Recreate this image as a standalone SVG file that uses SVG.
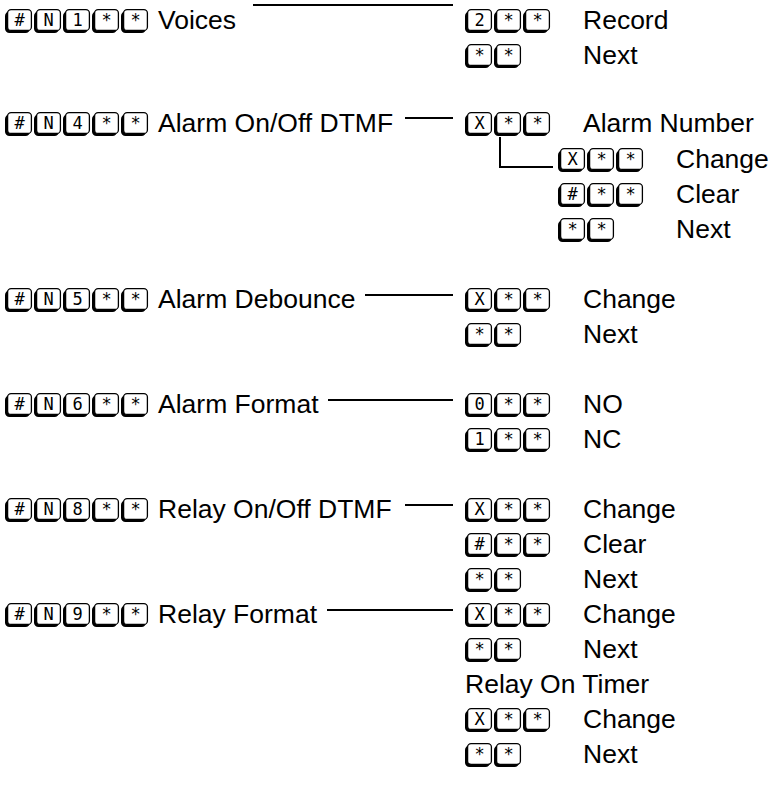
<svg xmlns="http://www.w3.org/2000/svg" width="772" height="804" viewBox="0 0 772 804">
<style>
.t{font-family:"Liberation Sans",Arial,sans-serif;font-size:26.5px;fill:#000}
.k{font-family:"DejaVu Sans Mono","Liberation Mono",monospace;font-size:17px;fill:#000;text-anchor:middle}
.ln{stroke:#000;stroke-width:2;fill:none}
</style>
<defs>
<symbol id="key" overflow="visible">
<rect x="0" y="2.5" width="25" height="21.5" rx="4.5" fill="#000"/>
<rect x="2.6" y="0.6" width="23.8" height="20.8" rx="3.5" fill="#fff" stroke="#000" stroke-width="1.3"/>
</symbol>
</defs>
<rect width="772" height="804" fill="#fff"/>
<g id="connectors">
<line class="ln" x1="253" y1="5" x2="453" y2="5"/>
<line class="ln" x1="405" y1="118" x2="453" y2="118"/>
<polyline class="ln" points="500,137 500,167 553,167"/>
<line class="ln" x1="365" y1="295" x2="453" y2="295"/>
<line class="ln" x1="328" y1="400" x2="453" y2="400"/>
<line class="ln" x1="405" y1="505" x2="453" y2="505"/>
<line class="ln" x1="327" y1="610" x2="453" y2="610"/>
</g>
<g id="n1">
<use href="#key" x="5" y="9"/><text class="k" x="19.5" y="26">#</text>
<use href="#key" x="34" y="9"/><text class="k" x="48.5" y="26">N</text>
<use href="#key" x="63" y="9"/><text class="k" x="77.5" y="26">1</text>
<use href="#key" x="92" y="9"/><text class="k" x="106.5" y="26">*</text>
<use href="#key" x="121" y="9"/><text class="k" x="135.5" y="26">*</text>
<text class="t" x="158" y="29">Voices</text>
</g>
<g id="n1-record">
<use href="#key" x="465" y="9"/><text class="k" x="479.5" y="26">2</text>
<use href="#key" x="494" y="9"/><text class="k" x="508.5" y="26">*</text>
<use href="#key" x="523" y="9"/><text class="k" x="537.5" y="26">*</text>
<text class="t" x="583" y="29">Record</text>
</g>
<g id="n1-next">
<use href="#key" x="465" y="44"/><text class="k" x="479.5" y="61">*</text>
<use href="#key" x="494" y="44"/><text class="k" x="508.5" y="61">*</text>
<text class="t" x="583" y="64">Next</text>
</g>
<g id="n4">
<use href="#key" x="5" y="112"/><text class="k" x="19.5" y="129">#</text>
<use href="#key" x="34" y="112"/><text class="k" x="48.5" y="129">N</text>
<use href="#key" x="63" y="112"/><text class="k" x="77.5" y="129">4</text>
<use href="#key" x="92" y="112"/><text class="k" x="106.5" y="129">*</text>
<use href="#key" x="121" y="112"/><text class="k" x="135.5" y="129">*</text>
<text class="t" x="158" y="132">Alarm On/Off DTMF</text>
</g>
<g id="n4-number">
<use href="#key" x="465" y="112"/><text class="k" x="479.5" y="129">X</text>
<use href="#key" x="494" y="112"/><text class="k" x="508.5" y="129">*</text>
<use href="#key" x="523" y="112"/><text class="k" x="537.5" y="129">*</text>
<text class="t" x="583" y="132">Alarm Number</text>
</g>
<g id="n4-change">
<use href="#key" x="558" y="148"/><text class="k" x="572.5" y="165">X</text>
<use href="#key" x="587" y="148"/><text class="k" x="601.5" y="165">*</text>
<use href="#key" x="616" y="148"/><text class="k" x="630.5" y="165">*</text>
<text class="t" x="676" y="168">Change</text>
</g>
<g id="n4-clear">
<use href="#key" x="558" y="183"/><text class="k" x="572.5" y="200">#</text>
<use href="#key" x="587" y="183"/><text class="k" x="601.5" y="200">*</text>
<use href="#key" x="616" y="183"/><text class="k" x="630.5" y="200">*</text>
<text class="t" x="676" y="203">Clear</text>
</g>
<g id="n4-next">
<use href="#key" x="558" y="218"/><text class="k" x="572.5" y="235">*</text>
<use href="#key" x="587" y="218"/><text class="k" x="601.5" y="235">*</text>
<text class="t" x="676" y="238">Next</text>
</g>
<g id="n5">
<use href="#key" x="5" y="288"/><text class="k" x="19.5" y="305">#</text>
<use href="#key" x="34" y="288"/><text class="k" x="48.5" y="305">N</text>
<use href="#key" x="63" y="288"/><text class="k" x="77.5" y="305">5</text>
<use href="#key" x="92" y="288"/><text class="k" x="106.5" y="305">*</text>
<use href="#key" x="121" y="288"/><text class="k" x="135.5" y="305">*</text>
<text class="t" x="158" y="308">Alarm Debounce</text>
</g>
<g id="n5-change">
<use href="#key" x="465" y="288"/><text class="k" x="479.5" y="305">X</text>
<use href="#key" x="494" y="288"/><text class="k" x="508.5" y="305">*</text>
<use href="#key" x="523" y="288"/><text class="k" x="537.5" y="305">*</text>
<text class="t" x="583" y="308">Change</text>
</g>
<g id="n5-next">
<use href="#key" x="465" y="323"/><text class="k" x="479.5" y="340">*</text>
<use href="#key" x="494" y="323"/><text class="k" x="508.5" y="340">*</text>
<text class="t" x="583" y="343">Next</text>
</g>
<g id="n6">
<use href="#key" x="5" y="393"/><text class="k" x="19.5" y="410">#</text>
<use href="#key" x="34" y="393"/><text class="k" x="48.5" y="410">N</text>
<use href="#key" x="63" y="393"/><text class="k" x="77.5" y="410">6</text>
<use href="#key" x="92" y="393"/><text class="k" x="106.5" y="410">*</text>
<use href="#key" x="121" y="393"/><text class="k" x="135.5" y="410">*</text>
<text class="t" x="158" y="413">Alarm Format</text>
</g>
<g id="n6-no">
<use href="#key" x="465" y="393"/><text class="k" x="479.5" y="410">0</text>
<use href="#key" x="494" y="393"/><text class="k" x="508.5" y="410">*</text>
<use href="#key" x="523" y="393"/><text class="k" x="537.5" y="410">*</text>
<text class="t" x="583" y="413">NO</text>
</g>
<g id="n6-nc">
<use href="#key" x="465" y="428"/><text class="k" x="479.5" y="445">1</text>
<use href="#key" x="494" y="428"/><text class="k" x="508.5" y="445">*</text>
<use href="#key" x="523" y="428"/><text class="k" x="537.5" y="445">*</text>
<text class="t" x="583" y="448">NC</text>
</g>
<g id="n8">
<use href="#key" x="5" y="498"/><text class="k" x="19.5" y="515">#</text>
<use href="#key" x="34" y="498"/><text class="k" x="48.5" y="515">N</text>
<use href="#key" x="63" y="498"/><text class="k" x="77.5" y="515">8</text>
<use href="#key" x="92" y="498"/><text class="k" x="106.5" y="515">*</text>
<use href="#key" x="121" y="498"/><text class="k" x="135.5" y="515">*</text>
<text class="t" x="158" y="518">Relay On/Off DTMF</text>
</g>
<g id="n8-change">
<use href="#key" x="465" y="498"/><text class="k" x="479.5" y="515">X</text>
<use href="#key" x="494" y="498"/><text class="k" x="508.5" y="515">*</text>
<use href="#key" x="523" y="498"/><text class="k" x="537.5" y="515">*</text>
<text class="t" x="583" y="518">Change</text>
</g>
<g id="n8-clear">
<use href="#key" x="465" y="533"/><text class="k" x="479.5" y="550">#</text>
<use href="#key" x="494" y="533"/><text class="k" x="508.5" y="550">*</text>
<use href="#key" x="523" y="533"/><text class="k" x="537.5" y="550">*</text>
<text class="t" x="583" y="553">Clear</text>
</g>
<g id="n8-next">
<use href="#key" x="465" y="568"/><text class="k" x="479.5" y="585">*</text>
<use href="#key" x="494" y="568"/><text class="k" x="508.5" y="585">*</text>
<text class="t" x="583" y="588">Next</text>
</g>
<g id="n9">
<use href="#key" x="5" y="603"/><text class="k" x="19.5" y="620">#</text>
<use href="#key" x="34" y="603"/><text class="k" x="48.5" y="620">N</text>
<use href="#key" x="63" y="603"/><text class="k" x="77.5" y="620">9</text>
<use href="#key" x="92" y="603"/><text class="k" x="106.5" y="620">*</text>
<use href="#key" x="121" y="603"/><text class="k" x="135.5" y="620">*</text>
<text class="t" x="158" y="623">Relay Format</text>
</g>
<g id="n9-change">
<use href="#key" x="465" y="603"/><text class="k" x="479.5" y="620">X</text>
<use href="#key" x="494" y="603"/><text class="k" x="508.5" y="620">*</text>
<use href="#key" x="523" y="603"/><text class="k" x="537.5" y="620">*</text>
<text class="t" x="583" y="623">Change</text>
</g>
<g id="n9-next">
<use href="#key" x="465" y="638"/><text class="k" x="479.5" y="655">*</text>
<use href="#key" x="494" y="638"/><text class="k" x="508.5" y="655">*</text>
<text class="t" x="583" y="658">Next</text>
</g>
<g id="n9-timer">
<text class="t" x="465" y="693">Relay On Timer</text>
</g>
<g id="n9-timer-change">
<use href="#key" x="465" y="708"/><text class="k" x="479.5" y="725">X</text>
<use href="#key" x="494" y="708"/><text class="k" x="508.5" y="725">*</text>
<use href="#key" x="523" y="708"/><text class="k" x="537.5" y="725">*</text>
<text class="t" x="583" y="728">Change</text>
</g>
<g id="n9-timer-next">
<use href="#key" x="465" y="743"/><text class="k" x="479.5" y="760">*</text>
<use href="#key" x="494" y="743"/><text class="k" x="508.5" y="760">*</text>
<text class="t" x="583" y="763">Next</text>
</g>
</svg>
